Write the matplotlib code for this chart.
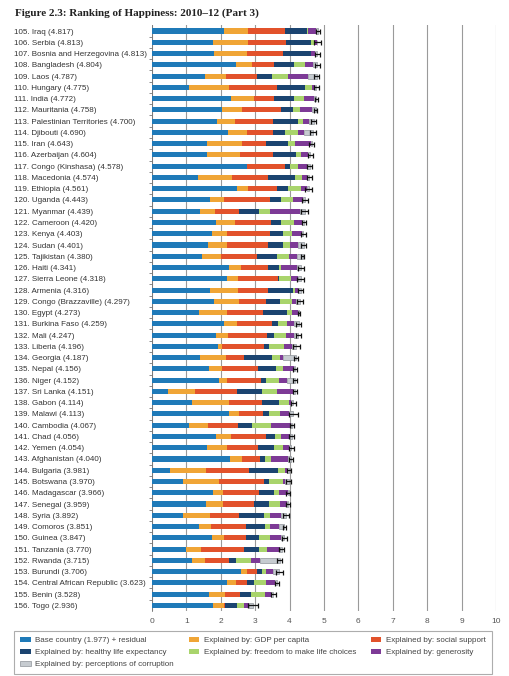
import matplotlib
matplotlib.use("Agg")
import matplotlib.pyplot as plt
import numpy as np

countries = ["Iraq", "Serbia", "Bosnia and Herzegovina", "Bangladesh", "Laos", "Hungary", "India",
             "Mauritania", "Palestinian Territories", "Djibouti", "Iran", "Azerbaijan",
             "Congo (Kinshasa)", "Macedonia", "Ethiopia", "Uganda", "Myanmar", "Cameroon", "Kenya",
             "Sudan", "Tajikistan", "Haiti", "Sierra Leone", "Armenia", "Congo (Brazzaville)",
             "Egypt", "Burkina Faso", "Mali", "Liberia", "Georgia", "Nepal", "Niger", "Sri Lanka",
             "Gabon", "Malawi", "Cambodia", "Chad", "Yemen", "Afghanistan", "Bulgaria", "Botswana",
             "Madagascar", "Senegal", "Syria", "Comoros", "Guinea", "Tanzania", "Rwanda", "Burundi",
             "Central African Republic", "Benin", "Togo"]
ranks = list(range(105, 157))
scores = [4.817, 4.813, 4.813, 4.804, 4.787, 4.775, 4.772, 4.758, 4.700, 4.690, 4.643, 4.604,
          4.578, 4.574, 4.561, 4.443, 4.439, 4.420, 4.403, 4.401, 4.380, 4.341, 4.318, 4.316,
          4.297, 4.273, 4.259, 4.247, 4.196, 4.187, 4.156, 4.152, 4.151, 4.114, 4.113, 4.067,
          4.056, 4.054, 4.040, 3.981, 3.970, 3.966, 3.959, 3.892, 3.851, 3.847, 3.770, 3.715,
          3.706, 3.623, 3.528, 2.936]

base = [2.09, 1.78, 1.81, 2.44, 1.55, 1.08, 2.30, 2.04, 1.89, 2.22, 1.60, 1.59, 2.75, 1.35,
        2.47, 1.70, 1.39, 1.86, 1.74, 1.64, 1.46, 2.25, 2.19, 1.69, 1.81, 1.37, 2.09, 1.86,
        1.91, 1.39, 1.66, 1.95, 0.46, 1.16, 2.25, 1.09, 1.86, 1.61, 2.28, 0.52, 0.90, 1.78,
        1.57, 0.91, 1.38, 1.75, 0.98, 1.16, 2.60, 2.19, 1.66, 1.78]
gdp = [0.70, 1.01, 0.94, 0.47, 0.61, 1.15, 0.67, 0.58, 0.53, 0.54, 1.03, 0.97, 0.02, 0.98,
       0.32, 0.39, 0.43, 0.56, 0.45, 0.55, 0.55, 0.35, 0.31, 0.81, 0.72, 0.82, 0.39, 0.36,
       0.12, 0.77, 0.37, 0.24, 0.80, 1.09, 0.27, 0.53, 0.43, 0.58, 0.34, 1.05, 1.06, 0.28,
       0.49, 0.79, 0.34, 0.34, 0.44, 0.38, 0.17, 0.24, 0.45, 0.31]
social = [1.07, 1.10, 1.05, 0.65, 0.90, 1.39, 0.59, 1.13, 1.11, 0.77, 0.67, 0.97, 1.09, 1.05,
          0.85, 1.33, 0.72, 1.03, 1.23, 1.19, 1.03, 0.76, 1.16, 0.88, 0.77, 1.05, 1.02, 1.12,
          1.22, 0.52, 1.04, 0.97, 1.22, 0.94, 0.72, 0.88, 1.03, 0.88, 0.53, 1.25, 1.29, 1.06,
          0.91, 0.83, 1.00, 0.63, 1.26, 0.71, 0.27, 0.32, 0.45, 0.02]
health = [0.65, 0.74, 0.81, 0.57, 0.42, 0.82, 0.56, 0.34, 0.72, 0.33, 0.65, 0.66, 0.16, 0.79,
          0.31, 0.33, 0.57, 0.30, 0.38, 0.44, 0.58, 0.34, 0.02, 0.72, 0.41, 0.68, 0.15, 0.21,
          0.15, 0.80, 0.53, 0.15, 0.73, 0.51, 0.16, 0.41, 0.26, 0.48, 0.13, 0.84, 0.15, 0.44,
          0.44, 0.72, 0.57, 0.38, 0.42, 0.20, 0.16, 0.21, 0.33, 0.35]
freedom = [0.02, 0.08, 0.02, 0.31, 0.47, 0.22, 0.31, 0.21, 0.14, 0.37, 0.22, 0.15, 0.23, 0.19,
           0.37, 0.34, 0.31, 0.39, 0.28, 0.20, 0.37, 0.05, 0.35, 0.07, 0.37, 0.15, 0.27, 0.35,
           0.45, 0.25, 0.20, 0.39, 0.41, 0.27, 0.31, 0.55, 0.17, 0.27, 0.18, 0.22, 0.40, 0.14,
           0.31, 0.18, 0.15, 0.34, 0.25, 0.43, 0.10, 0.34, 0.39, 0.22]
generosity = [0.24, 0.09, 0.12, 0.25, 0.59, 0.07, 0.28, 0.34, 0.17, 0.19, 0.44, 0.20, 0.27, 0.16,
              0.19, 0.30, 0.87, 0.22, 0.28, 0.23, 0.23, 0.47, 0.22, 0.08, 0.11, 0.18, 0.21, 0.22,
              0.22, 0.07, 0.32, 0.22, 0.48, 0.08, 0.28, 0.57, 0.27, 0.15, 0.48, 0.05, 0.08, 0.24,
              0.19, 0.32, 0.24, 0.31, 0.36, 0.26, 0.21, 0.28, 0.18, 0.13]
corruption = [0.05, 0.01, 0.06, 0.11, 0.25, 0.04, 0.06, 0.12, 0.14, 0.27, 0.03, 0.06, 0.06, 0.05,
              0.05, 0.05, 0.15, 0.06, 0.04, 0.16, 0.16, 0.12, 0.07, 0.07, 0.10, 0.02, 0.13, 0.13,
              0.13, 0.39, 0.04, 0.23, 0.05, 0.06, 0.12, 0.04, 0.04, 0.08, 0.10, 0.05, 0.09, 0.03,
              0.05, 0.14, 0.17, 0.10, 0.06, 0.58, 0.19, 0.04, 0.07, 0.13]
ci_half = [0.06, 0.09, 0.08, 0.07, 0.07, 0.08, 0.04, 0.05, 0.07, 0.09, 0.07, 0.07, 0.07, 0.08,
           0.10, 0.08, 0.10, 0.07, 0.06, 0.07, 0.05, 0.09, 0.09, 0.06, 0.08, 0.04, 0.07, 0.07,
           0.10, 0.07, 0.05, 0.06, 0.05, 0.08, 0.12, 0.05, 0.07, 0.06, 0.06, 0.07, 0.08, 0.06,
           0.06, 0.08, 0.05, 0.07, 0.08, 0.07, 0.11, 0.06, 0.07, 0.15]

series_names = ["Base country (1.977) + residual", "Explained by: GDP per capita",
                "Explained by: social support", "Explained by: healthy life expectancy",
                "Explained by: freedom to make life choices", "Explained by: generosity",
                "Explained by: perceptions of corruption"]
series_vals = [base, gdp, social, health, freedom, generosity, corruption]
colors = ["#1f7ab8", "#f0a536", "#e2522b", "#1b4470", "#a9d46c", "#7d3a96", "#c6cbd0"]
xticks = list(range(0, 11))

fig = plt.figure(figsize=(5.09, 6.76), dpi=100)
ax = fig.add_axes([152/509, (676-611)/676, (496-152)/509, (611-25.4)/676])

n = len(countries)
y = np.arange(n)
left = np.zeros(n)
handles = []
for name, vals, col in zip(series_names, series_vals, colors):
    v = np.array(vals)
    if col == "#c6cbd0":
        h = ax.barh(y, v, left=left, height=0.45, color=col, edgecolor="#8e9398",
                    linewidth=0.5, label=name, zorder=3)
    else:
        h = ax.barh(y, v, left=left, height=0.45, color=col, linewidth=0,
                    label=name, zorder=3)
    handles.append(h)
    left = left + v

ax.errorbar(scores, y, xerr=ci_half, fmt="none", ecolor="#111111", elinewidth=0.9,
            capsize=1.8, capthick=0.9, zorder=4)

ax.set_xlim(0, 10)
ax.set_ylim(n - 0.5, -0.5)
ax.set_xticks(xticks)
ax.set_xticklabels([str(t) for t in xticks], fontsize=6, color="#555555",
                   fontfamily="Liberation Sans")
ax.tick_params(axis="x", length=0, pad=5)
ax.grid(axis="x", color="#9a9a9a", linewidth=0.8, zorder=0)
ax.set_axisbelow(True)

labels = [f"{r}. {c} ({s:.3f})" for r, c, s in zip(ranks, countries, scores)]
ax.set_yticks(y)
ax.set_yticklabels(labels, fontsize=5.8, color="#333333", fontfamily="Liberation Sans",
                   ha="left")
ax.tick_params(axis="y", which="major", length=0, pad=(152 - 14) * 0.72)
ax.set_yticks(y[:-1] + 0.5, minor=True)
ax.tick_params(axis="y", which="minor", length=2.0, width=0.6, color="#777777")

for s in ["top", "right", "bottom"]:
    ax.spines[s].set_visible(False)
ax.spines["left"].set_color("#777777")
ax.spines["left"].set_linewidth(0.6)

fig.text(15/509, 1 - 13/676, "Figure 2.3: Ranking of Happiness: 2010–12 (Part 3)",
         fontsize=8, fontweight="bold", fontfamily="Liberation Serif", color="#222222",
         ha="left", va="center")

order = [0, 3, 6, 1, 4, 2, 5]
leg = fig.legend([handles[i] for i in order], [series_names[i] for i in order],
                 loc="upper left", bbox_to_anchor=(14/509, 1 - 631/676, 478/509, 0),
                 mode="expand", ncol=3, frameon=True, fancybox=False,
                 edgecolor="#999999", handlelength=1.3, handleheight=0.5,
                 labelspacing=0.6, borderaxespad=0, borderpad=0.75, handletextpad=0.6,
                 prop={"family": "Liberation Sans", "size": 5.8})
leg.get_frame().set_linewidth(0.8)
for t in leg.get_texts():
    t.set_color("#444444")

fig.savefig("out.png", dpi=100)
